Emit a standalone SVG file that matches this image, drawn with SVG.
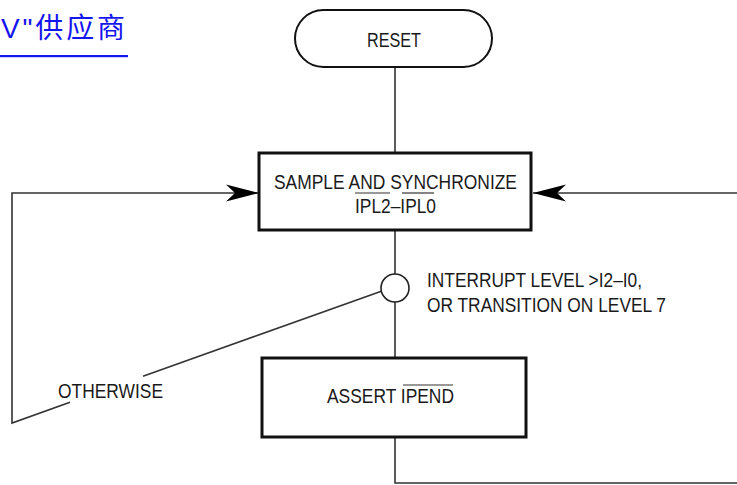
<svg xmlns="http://www.w3.org/2000/svg" width="737" height="485" viewBox="0 0 737 485">
<defs>
<style>
.t{font-family:"Liberation Sans Narrow","Liberation Sans",Arial,sans-serif;font-size:20px;fill:#1a1a1a}
.box{fill:#fff;stroke:#111;stroke-width:3}
.ln{fill:none;stroke:#333;stroke-width:1.6}
.thin{stroke:#333;stroke-width:1.2}
</style>
<marker id="ah" markerUnits="userSpaceOnUse" markerWidth="40" markerHeight="20" viewBox="-34 -10 36 20" refX="0" refY="0" orient="auto">
<path d="M0,0 L-33,-8.5 L-24,0 L-33,8.5 Z" fill="#000"/>
</marker>
</defs>
<rect width="737" height="485" fill="#fff"/>
<g id="title">
<text x="1" y="38" font-family="'Liberation Sans','Noto Sans CJK SC',sans-serif" font-size="28" fill="#1515ee" textLength="124" lengthAdjust="spacing">V"供应商</text>
<rect x="0" y="55" width="128" height="2.2" fill="#1515ee"/>
</g>
<g id="connectors">
<path class="ln" d="M395,67 V153"/>
<path class="ln" d="M395,230 V274"/>
<path class="ln" d="M395,302 V358"/>
<path class="ln" d="M395,437 V483 H737"/>
<path class="ln" d="M737,193 H533" marker-end="url(#ah)"/>
<path class="ln" d="M382,291 L143,376.3"/>
<path class="ln" d="M70,402.3 L12,423 V193 H259" marker-end="url(#ah)"/>
</g>
<g id="reset">
<rect x="295" y="10" width="197" height="57" rx="28.5" fill="#fff" stroke="#111" stroke-width="2"/>
<text class="t" x="367" y="47" textLength="54" lengthAdjust="spacingAndGlyphs">RESET</text>
</g>
<g id="sample">
<rect class="box" x="259" y="153" width="272" height="77"/>
<text class="t" x="274" y="189" textLength="243" lengthAdjust="spacingAndGlyphs">SAMPLE AND SYNCHRONIZE</text>
<text class="t" x="355" y="213" textLength="81" lengthAdjust="spacingAndGlyphs">IPL2–IPL0</text>
<line class="thin" x1="355" y1="193" x2="390" y2="193"/>
<line class="thin" x1="402" y1="193" x2="434" y2="193"/>
</g>
<g id="decision">
<circle cx="395" cy="288" r="14" fill="#fff" stroke="#222" stroke-width="1.6"/>
<text class="t" x="427" y="287" textLength="215" lengthAdjust="spacingAndGlyphs">INTERRUPT LEVEL &gt;I2–I0,</text>
<text class="t" x="427" y="312" textLength="239" lengthAdjust="spacingAndGlyphs">OR TRANSITION ON LEVEL 7</text>
<text class="t" x="58" y="398" textLength="105" lengthAdjust="spacingAndGlyphs">OTHERWISE</text>
</g>
<g id="assert">
<rect class="box" x="262" y="358" width="264" height="79"/>
<text class="t" x="327" y="403" textLength="127" lengthAdjust="spacingAndGlyphs">ASSERT IPEND</text>
<line class="thin" x1="403" y1="385" x2="453" y2="385"/>
</g>
</svg>
